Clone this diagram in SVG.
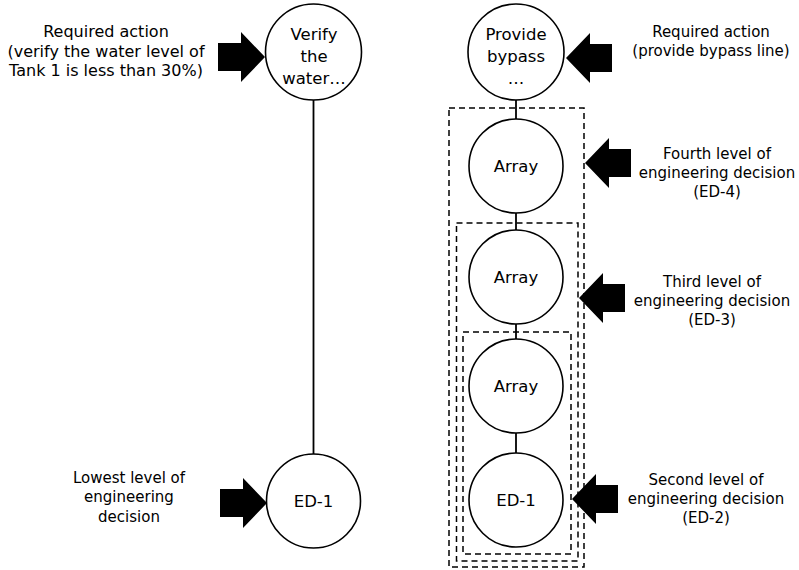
<svg xmlns="http://www.w3.org/2000/svg" width="799" height="570" viewBox="0 0 799 570">
  <style>
    .node { fill: #fff; stroke: #000; stroke-width: 1.6; }
    .frame { fill: none; stroke: #000; stroke-width: 1.5; stroke-dasharray: 6 4; }
    .link { stroke: #000; stroke-width: 1.8; fill: none; }
    .arrow { fill: #000; stroke: none; }
    text { font-family: "Comic Sans MS", "DejaVu Sans", sans-serif; fill: #000; text-anchor: middle; }
    .nt { font-size: 16.5px; }
    .lt { font-size: 15px; }
    .wide { font-size: 16px; }
  </style>
  <defs>
    <!-- block arrow pointing right, tip at origin -->
    <polygon id="arrowR" class="arrow" points="0,0 -24,-25 -24,-14 -47,-14 -47,14 -24,14 -24,25"/>
    <!-- block arrow pointing left, tip at origin -->
    <polygon id="arrowL" class="arrow" points="0,0 24,-25 24,-14 46,-14 46,14 24,14 24,25"/>
  </defs>

  <rect width="799" height="570" fill="#fff"/>

  <!-- nested decision frames -->
  <g id="frames">
    <rect id="frame-ed4" class="frame" x="449" y="108" width="135" height="459"/>
    <rect id="frame-ed3" class="frame" x="456.5" y="223" width="121.5" height="338"/>
    <rect id="frame-ed2" class="frame" x="463" y="332" width="108" height="222"/>
  </g>

  <!-- connectors -->
  <g id="connectors">
    <line class="link" x1="313.5" y1="100" x2="313.5" y2="454"/>
    <line class="link" x1="516" y1="100" x2="516" y2="119"/>
    <line class="link" x1="516" y1="213" x2="516" y2="230"/>
    <line class="link" x1="516" y1="324" x2="516" y2="339"/>
    <line class="link" x1="516" y1="433" x2="516" y2="453"/>
  </g>

  <!-- left chain -->
  <g id="node-verify">
    <circle class="node" cx="313.5" cy="52" r="48"/>
    <text class="nt" x="314" y="40">Verify</text>
    <text class="nt" x="314" y="62">the</text>
    <text class="nt" x="314" y="84">water…</text>
  </g>
  <g id="node-ed1-left">
    <circle class="node" cx="313.5" cy="501" r="47"/>
    <text class="nt" x="313.5" y="507">ED-1</text>
  </g>

  <!-- right chain -->
  <g id="node-bypass">
    <circle class="node" cx="516" cy="52" r="48"/>
    <text class="nt" x="516" y="40">Provide</text>
    <text class="nt" x="516" y="62">bypass</text>
    <text class="nt" x="516" y="84">…</text>
  </g>
  <g id="node-array-4">
    <circle class="node" cx="516" cy="166" r="47"/>
    <text class="nt" x="516" y="172">Array</text>
  </g>
  <g id="node-array-3">
    <circle class="node" cx="516" cy="277" r="47"/>
    <text class="nt" x="516" y="283">Array</text>
  </g>
  <g id="node-array-2">
    <circle class="node" cx="516" cy="386" r="47"/>
    <text class="nt" x="516" y="392">Array</text>
  </g>
  <g id="node-ed1-right">
    <circle class="node" cx="516" cy="500" r="47"/>
    <text class="nt" x="516" y="506">ED-1</text>
  </g>

  <!-- callouts -->
  <g id="label-required-left">
    <use href="#arrowR" x="265" y="57"/>
    <text class="lt wide" x="106" y="37">Required action</text>
    <text class="lt wide" x="106" y="57">(verify the water level of</text>
    <text class="lt wide" x="106" y="76">Tank 1 is less than 30%)</text>
  </g>
  <g id="label-lowest">
    <use href="#arrowR" x="267" y="503"/>
    <text class="lt" x="129" y="483">Lowest level of</text>
    <text class="lt" x="129" y="502">engineering</text>
    <text class="lt" x="129" y="522">decision</text>
  </g>
  <g id="label-required-right">
    <use href="#arrowL" x="566" y="58"/>
    <text class="lt" x="711" y="37">Required action</text>
    <text class="lt" x="711" y="56">(provide bypass line)</text>
  </g>
  <g id="label-ed4">
    <use href="#arrowL" x="585" y="163"/>
    <text class="lt" x="717" y="159">Fourth level of</text>
    <text class="lt" x="717" y="178">engineering decision</text>
    <text class="lt" x="717" y="197">(ED-4)</text>
  </g>
  <g id="label-ed3">
    <use href="#arrowL" x="579" y="298"/>
    <text class="lt" x="712" y="287">Third level of</text>
    <text class="lt" x="712" y="306">engineering decision</text>
    <text class="lt" x="712" y="325">(ED-3)</text>
  </g>
  <g id="label-ed2">
    <use href="#arrowL" x="572" y="499"/>
    <text class="lt" x="706" y="485">Second level of</text>
    <text class="lt" x="706" y="504">engineering decision</text>
    <text class="lt" x="706" y="523">(ED-2)</text>
  </g>
</svg>
